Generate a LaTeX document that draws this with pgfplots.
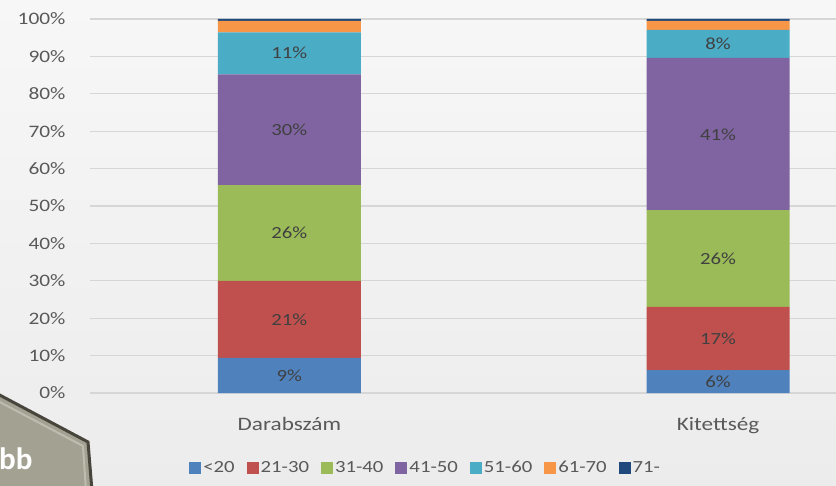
\documentclass[border=0pt]{standalone}
\usepackage{pgfplots}
\pgfplotsset{compat=1.18}
\usepackage{fontspec}
\setmainfont{Carlito}[FakeStretch=1.22]
\newfontfamily\bbfont{Carlito}
\definecolor{c1}{HTML}{4F81BD}
\definecolor{c2}{HTML}{C0504D}
\definecolor{c3}{HTML}{9BBB59}
\definecolor{c4}{HTML}{8064A2}
\definecolor{c5}{HTML}{4BACC6}
\definecolor{c6}{HTML}{F79646}
\definecolor{c7}{HTML}{1F497D}
\definecolor{ticktext}{HTML}{595959}
\definecolor{bartext}{HTML}{404040}
\definecolor{gridc}{RGB}{214,214,214}
\definecolor{bbfill}{RGB}{163,161,145}
\definecolor{bbedge}{RGB}{72,70,60}
\definecolor{bbbevel}{RGB}{190,188,174}
\begin{document}
\begin{tikzpicture}
\shade[top color={rgb,255:red,247;green,247;blue,247}, bottom color={rgb,255:red,236;green,236;blue,236}] (0pt,0pt) rectangle (836pt,485pt);
\path[use as bounding box] (0pt,0pt) rectangle (836pt,485pt);
\begin{axis}[
  at={(90pt,92pt)}, anchor=south west, scale only axis,
  width=746pt, height=374pt,
  xmin=-0.465, xmax=1.275, ymin=0, ymax=100,
  ybar stacked, bar width=143pt,
  axis line style={draw=none},
  tick style={draw=none},
  ymajorgrids, major grid style={gridc, line width=1.3pt},
  xtick={0,1}, xticklabels={Darabszám,Kitettség},
  ytick={0,10,...,100},
  yticklabels={0\%,10\%,20\%,30\%,40\%,50\%,60\%,70\%,80\%,90\%,100\%},
  yticklabel style={anchor=east, xshift=-21pt, text=ticktext, font=\fontsize{17.5}{19}\selectfont},
  xticklabel style={yshift=-21pt, text=ticktext, font=\fontsize{19}{21}\selectfont},
  legend columns=7,
  legend style={at={(0.450,-0.200)}, anchor=center, draw=none, fill=none,
    font=\fontsize{17}{19}\selectfont, text=ticktext,
    /tikz/every odd column/.append style={column sep=0pt},
    /tikz/every even column/.append style={column sep=10pt},
    nodes={inner xsep=2pt}},
  legend image code/.code={\fill[#1,draw=none] (0pt,-6.5pt) rectangle (12pt,6pt);},
]
\addplot[fill=c1, draw=none] coordinates {(0,9.4) (1,6.1)};
\addplot[fill=c2, draw=none] coordinates {(0,20.6) (1,16.9)};
\addplot[fill=c3, draw=none] coordinates {(0,25.6) (1,25.9)};
\addplot[fill=c4, draw=none] coordinates {(0,29.6) (1,40.7)};
\addplot[fill=c5, draw=none] coordinates {(0,11.2) (1,7.5)};
\addplot[fill=c6, draw=none] coordinates {(0,3.1) (1,2.4)};
\addplot[fill=c7, draw=none] coordinates {(0,0.5) (1,0.5)};
\legend{<20,21-30,31-40,41-50,51-60,61-70,71-}
\end{axis}
\begin{axis}[
  at={(90pt,92pt)}, anchor=south west, scale only axis,
  width=746pt, height=374pt,
  xmin=-0.465, xmax=1.275, ymin=0, ymax=100,
  hide axis, clip=false,
]
\addplot[draw=none, mark=none, nodes near coords, point meta=explicit symbolic,
  nodes near coords style={anchor=center, text=bartext, font=\fontsize{17}{19}\selectfont}]
  coordinates {
  (0,4.7)[9\%] (0,19.7)[21\%] (0,42.8)[26\%] (0,70.4)[30\%] (0,91.0)[11\%]
  (1,3.05)[6\%] (1,14.55)[17\%] (1,35.95)[26\%] (1,69.05)[41\%] (1,93.35)[8\%]
  };
\end{axis}
\filldraw[fill=bbfill, draw=bbedge, line width=3pt]
  (-6pt,93pt) -- (88pt,43pt) -- (92pt,-6pt) -- (-6pt,-6pt) -- cycle;
\draw[bbbevel, line width=2pt]
  (-6pt,86pt) -- (83pt,39pt) -- (86pt,-6pt);
\node[text=white, font=\bbfont\bfseries\fontsize{31}{33}\selectfont, anchor=base west, inner sep=0pt] at (-1pt,16pt) {bb};
\end{tikzpicture}
\end{document}
